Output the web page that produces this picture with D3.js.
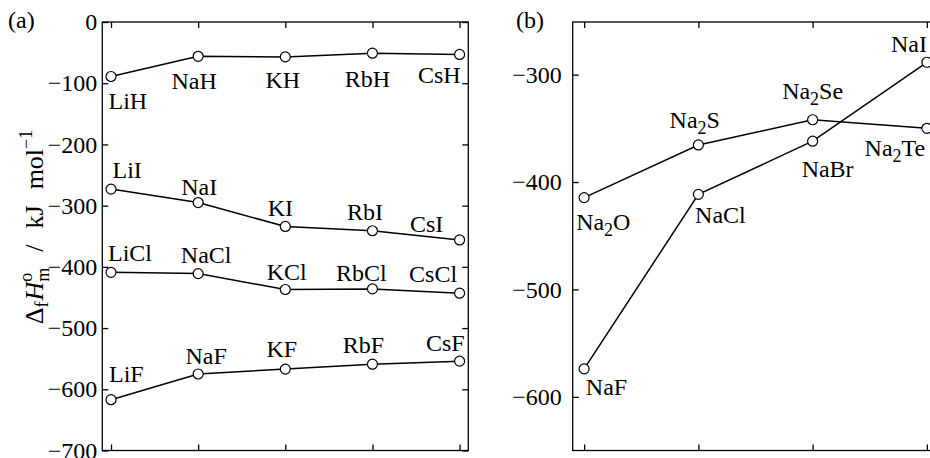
<!DOCTYPE html>
<meta charset="utf-8">
<html>
<head>
<script src="https://cdn.jsdelivr.net/npm/d3@7"></script>
<style>
  body { margin: 0; background: #fff; }
  svg text { font-family: "Liberation Serif", "Times New Roman", serif; fill: #000; }
  .axis path { display: none; }
  .axis line { stroke: #000; stroke-width: 1.3; }
  .axis text { font-size: 24px; font-family: "Liberation Serif", serif; }
  .lbl { font-size: 24px; }
</style>
</head>
<body>
<svg id="chart" width="930" height="458"></svg>
<script>
// panel (a): alkali metal halides / hydrides
var metalsA = ["Li", "Na", "K", "Rb", "Cs"];
var hydrideNames = ["LiH", "NaH", "KH", "RbH", "CsH"];
var hydrideVals = [-89, -56, -57, -51, -53];
var iodideNames = ["LiI", "NaI", "KI", "RbI", "CsI"];
var iodideVals = [-273, -295, -334, -341, -356];
var chlorideNames = ["LiCl", "NaCl", "KCl", "RbCl", "CsCl"];
var chlorideVals = [-409, -411, -437, -436, -443];
var fluorideNames = ["LiF", "NaF", "KF", "RbF", "CsF"];
var fluorideVals = [-617, -575, -567, -559, -554];
var ticksA = [0, -100, -200, -300, -400, -500, -600, -700];

// panel (b): sodium compounds
var slotsB = ["1", "2", "3", "4"];
var chalcNames = ["Na2O", "Na2S", "Na2Se", "Na2Te"];
var chalcVals = [-414.5, -365.5, -342, -350];
var halNames = ["NaF", "NaCl", "NaBr", "NaI"];
var halVals = [-574, -411.5, -362, -288.5];
var ticksB = [-300, -400, -500, -600];

// label placement: [anchor, dx, dy] from the marker centre
var labelPos = {
  LiH: ["start", -2.5, 33], NaH: ["middle", -4, 33], KH: ["middle", -2.5, 31], RbH: ["middle", -5, 34], CsH: ["end", 1, 29],
  LiI: ["start", 1.5, -11], NaI: ["middle", 1, -8], KI: ["middle", -5, -10], RbI: ["middle", -7.5, -11], CsI: ["middle", -33, -8],
  LiCl: ["start", -3, -11], NaCl: ["middle", 8, -11], KCl: ["middle", 1.5, -10], RbCl: ["middle", -11, -8], CsCl: ["middle", -26.5, -11],
  LiF: ["start", -2, -18], NaF: ["middle", 8, -10], KF: ["middle", -3.5, -12], RbF: ["middle", -9, -11], CsF: ["end", 5, -10]
};
var labelPosB = {
  Na2O: ["start", -8, 32], Na2S: ["middle", -3.6, -17], Na2Se: ["middle", 0, -21], Na2Te: ["end", -1.7, 28],
  NaF: ["start", 1.7, 26], NaCl: ["start", -3.3, 29], NaBr: ["middle", 15, 36], NaI: ["end", 0, -10]
};

var svg = d3.select("#chart");
var top0 = 22, bottom0 = 450.5;

function panel(opts) {
  var g = svg.append("g");
  var x = d3.scalePoint().domain(opts.cats).range([opts.left, opts.right]).padding(0.1);
  var y = d3.scaleLinear().domain(opts.ydom).range([top0, bottom0]);

  g.append("rect")
    .attr("x", opts.left).attr("y", top0)
    .attr("width", opts.right - opts.left).attr("height", bottom0 - top0)
    .attr("fill", "none").attr("stroke", "#000").attr("stroke-width", 1.3);

  g.append("g").attr("class", "axis")
    .attr("transform", "translate(" + opts.left + ",0)")
    .call(d3.axisLeft(y).tickValues(opts.ticks).tickSize(-6).tickPadding(opts.pad));
  g.append("g").attr("class", "axis")
    .attr("transform", "translate(" + opts.right + ",0)")
    .call(d3.axisRight(y).tickValues(opts.ticks).tickSize(-6).tickFormat(""));
  g.append("g").attr("class", "axis")
    .attr("transform", "translate(0," + top0 + ")")
    .call(d3.axisTop(x).tickSize(-6).tickFormat(""));
  g.append("g").attr("class", "axis")
    .attr("transform", "translate(0," + bottom0 + ")")
    .call(d3.axisBottom(x).tickSize(-6).tickFormat(""));

  var line = d3.line()
    .x(function(d) { return x(d.c); })
    .y(function(d) { return y(d.v); });

  opts.series.forEach(function(s) {
    var pts = s.vals.map(function(v, i) { return { c: opts.cats[i], v: v, name: s.names[i] }; });
    g.append("path").datum(pts)
      .attr("d", line).attr("fill", "none")
      .attr("stroke", "#000").attr("stroke-width", 1.5);
    g.selectAll(null).data(pts).enter().append("circle")
      .attr("cx", function(d) { return x(d.c); })
      .attr("cy", function(d) { return y(d.v); })
      .attr("r", 5)
      .attr("fill", "#fff").attr("stroke", "#000").attr("stroke-width", 1.2);
    pts.forEach(function(d) {
      var p = opts.pos[d.name];
      var t = g.append("text").attr("class", "lbl")
        .attr("x", x(d.c) + p[1]).attr("y", y(d.v) + p[2])
        .attr("text-anchor", p[0]);
      // digits become subscripts, next part goes back up
      var shift = 0;
      d.name.split(/(\d+)/).forEach(function(part) {
        if (!part) return;
        if (/\d/.test(part)) {
          t.append("tspan").attr("dy", 6).attr("font-size", "18px").text(part);
          shift = -6;
        } else {
          t.append("tspan").attr("dy", shift).text(part);
          shift = 0;
        }
      });
    });
  });
}

panel({
  cats: metalsA, left: 102.3, right: 468.3, ydom: [0, -700], ticks: ticksA, pad: 5,
  pos: labelPos,
  series: [
    { names: hydrideNames, vals: hydrideVals },
    { names: iodideNames, vals: iodideVals },
    { names: chlorideNames, vals: chlorideVals },
    { names: fluorideNames, vals: fluorideVals }
  ]
});

panel({
  cats: slotsB, left: 572.7, right: 938.3, ydom: [-251, -650], ticks: ticksB, pad: 11,
  pos: labelPosB,
  series: [
    { names: chalcNames, vals: chalcVals },
    { names: halNames, vals: halVals }
  ]
});

// panel letters
svg.append("text").attr("x", 8).attr("y", 28).style("font-size", "24px").text("(a)");
svg.append("text").attr("x", 516).attr("y", 28).style("font-size", "24px").text("(b)");

// y axis title
var title = svg.append("text")
  .attr("transform", "translate(43,227) rotate(-90)")
  .attr("text-anchor", "middle")
  .style("font-size", "26px");
title.append("tspan").text("Δ");
title.append("tspan").attr("dy", 5).attr("font-size", "18px").text("f");
title.append("tspan").attr("dy", -5).attr("dx", 1).attr("font-style", "italic").text("H");
title.append("tspan").attr("dy", -11).attr("font-size", "18px").text("o");
title.append("tspan").attr("dx", -9).attr("dy", 17).attr("font-size", "18px").text("m");
title.append("tspan").attr("dy", -6).attr("dx", 16).text("/");
title.append("tspan").attr("dx", 16).text("kJ");
title.append("tspan").attr("dx", 16).text("mol");
title.append("tspan").attr("dy", -11).attr("font-size", "18px").text("−1");
</script>
</body>
</html>
